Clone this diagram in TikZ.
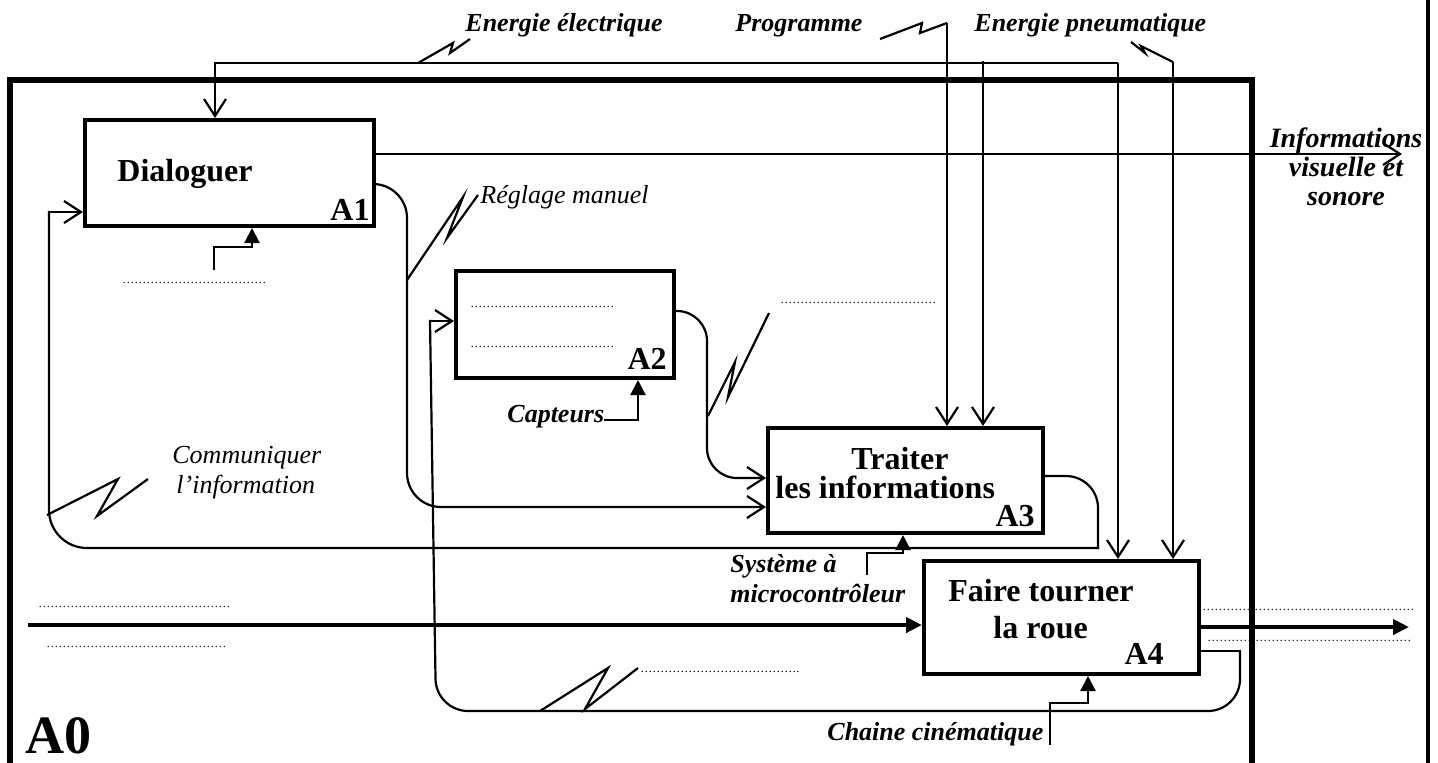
\documentclass[tikz,border=0pt]{standalone}
\usepackage{fontspec}
\setmainfont{Liberation Serif}
\usetikzlibrary{arrows.meta}
\newcount\dotcnt
\newcommand\myDots[1]{\dotcnt=0 \loop\ifnum\dotcnt<#1 …\advance\dotcnt by 1 \repeat}
\begin{document}
\begin{tikzpicture}[x=0.5pt,y=-0.5pt,
  wire/.style={line width=1.1pt},
  joinwire/.style={line width=1.1pt,line cap=rect},
  zz/.style={line width=1.1pt,line join=miter},
  box/.style={draw,line width=2pt,anchor=north west,inner sep=0pt},
  openarr/.style={wire,-{Straight Barb[length=8.5pt,width=11pt,line width=1.1pt]}},
  ctrlarr/.style={wire,-{Triangle[length=7.5pt,width=7.5pt]}},
  flowarr/.style={line width=2.2pt,-{Triangle[length=8pt,width=7.5pt]}},
  ttl/.style={font=\fontsize{16}{18}\selectfont\bfseries,inner sep=0pt,anchor=base west},
  lbl/.style={font=\fontsize{13}{15}\selectfont\bfseries\itshape,inner sep=0pt,anchor=base west},
  ilbl/.style={font=\fontsize{13}{15}\selectfont\itshape,inner sep=0pt,anchor=base west},
  infl/.style={font=\fontsize{14}{16}\selectfont\bfseries\itshape,inner sep=0pt,anchor=base},
  dts/.style={font=\fontsize{6}{7}\selectfont,inner sep=0pt,anchor=base west},
]
\useasboundingbox (0,0) rectangle (1438,762);

% outer frame and right border
\draw[line width=2.7pt] (10,775) -- (10,80) -- (1252,80) -- (1252,775);
\draw[line width=1.8pt] (1428,-10) -- (1428,775);

% boxes
\node[box,minimum width=144.5pt,minimum height=53pt] (A1) at (83,118) {};
\node[box,minimum width=109pt,minimum height=53.5pt] (A2) at (454,269) {};
\node[box,minimum width=137.5pt,minimum height=52.5pt] (A3) at (766,426) {};
\node[box,minimum width=137.5pt,minimum height=56.5pt] (A4) at (922,559) {};

% box texts
\node[ttl] (t1) at (117,181) {Dialoguer};
\node[ttl,anchor=base east] (n1) at (370,220) {A1};
\node[ttl,anchor=base east] (n2) at (667,369) {A2};
\node[ttl] (t3a) at (851,469) {Traiter};
\node[ttl] (t3b) at (775,498) {les informations};
\node[ttl,anchor=base east] (n3) at (1035,526) {A3};
\node[ttl] (t4a) at (948,601) {Faire tourner};
\node[ttl] (t4b) at (993,638) {la roue};
\node[ttl,anchor=base east] (n4) at (1164,664) {A4};
\node[font=\fontsize{27}{30}\selectfont\bfseries,inner sep=0pt,anchor=base west] (n0) at (25,753) {A0};

% labels
\node[lbl] (le) at (465,31) {Energie électrique};
\node[lbl] (lp) at (735,31) {Programme};
\node[lbl] (ln) at (974,31) {Energie pneumatique};
\node[infl] (li1) at (1346,147) {Informations};
\node[infl] (li2) at (1346,176) {visuelle et};
\node[infl] (li3) at (1346,205) {sonore};
\node[ilbl] (lr) at (480,203) {Réglage manuel};
\node[ilbl] (lc1) at (172,463) {Communiquer};
\node[ilbl] (lc2) at (176,493) {l’information};
\node[lbl] (lcap) at (507,422) {Capteurs};
\node[lbl] (ls1) at (730,572) {Système à};
\node[lbl] (ls2) at (730,602) {microcontrôleur};
\node[lbl] (lch) at (827,740) {Chaine cinématique};

% dotted placeholders
\node[dts] (d1) at (122,283) {\myDots{12}};
\node[dts] (d2) at (470,307) {\myDots{12}};
\node[dts] (d3) at (470,347) {\myDots{12}};
\node[dts] (d4) at (780,303) {\myDots{13}};
\node[dts] (d5) at (38,607) {\myDots{16}};
\node[dts] (d6) at (46,647) {\myDots{15}};
\node[dts] (d7) at (640,672) {\myDots{13}.};
\node[dts] (d8) at (1198,610) {\myDots{18}};
\node[dts] (d9) at (1207,641) {\myDots{17}};

% Energie electrique
\coordinate (eL) at (215,63);
\coordinate (eR) at (1118,63);
\coordinate (eM) at (983,61);
\draw[openarr] (eR) -- (eL) -- (eL |- A1.north);
\draw[openarr] (eR) -- (eR |- A4.north);
\draw[openarr] (eM) -- (eM |- A3.north);
\draw[zz] (418,63) -- (453,43) -- (450,53) -- (470,39);

% Programme
\coordinate (pT) at (947,23);
\draw[openarr] (pT) -- (pT |- A3.north);
\draw[zz] (880,39) -- (922,23) -- (920,33) -- (pT);

% Energie pneumatique
\coordinate (nT) at (1173,62);
\draw[openarr] (nT) -- (nT |- A4.north);
\draw[zz] (1131,42) -- (1145,53) -- (1141,46) -- (nT);

% Informations visuelle et sonore
\coordinate (iE) at (1402,154);
\draw[openarr] (A1.east |- iE) -- (iE);

% Reglage manuel
\coordinate (r1) at (407,184);
\coordinate (r2) at (407,507);
\draw[openarr,rounded corners=17pt] (A1.east |- r1) -- (r1) -- (r2) -- (A3.west |- r2);
\draw[zz] (407,280) -- (463,197) -- (447,238) -- (478,195);

% A2 -> A3
\coordinate (o1) at (707,311);
\draw[openarr,rounded corners=15pt] (A2.east |- o1) -- (o1) -- (o1 |- 0,478) -- (A3.west |- 0,478);
\draw[zz] (708,416) -- (735,362) -- (728,397) -- (769,313);

% Communiquer l'information loop
\coordinate (c1) at (1098,476);
\coordinate (c2) at (1098,548);
\coordinate (c3) at (49,548);
\coordinate (c4) at (49,212);
\draw[joinwire,rounded corners=16pt] (A3.east |- c1) -- (c1) -- (c2);
\draw[joinwire,rounded corners=19pt] (c2) -- (c3) -- (c4);
\draw[openarr] (c4) -- (A1.west |- c4);
\draw[zz] (47,515) -- (118,479) -- (97,516) -- (148,479);

% bottom loop A4 -> A2
\coordinate (b1) at (1240,651);
\coordinate (b2) at (1240,711);
\coordinate (b3) at (436,711);
\coordinate (b4) at (430,321);
\draw[joinwire] (A4.east |- b1) -- (b1);
\draw[joinwire,rounded corners=16pt] (b1) -- (b2) -- (b3) -- (b4);
\draw[openarr] (b4) -- (A2.west |- b4);
\draw[zz] (540,711) -- (608,668) -- (585,709) -- (638,668);

% controls
\coordinate (k1) at (214,270);
\coordinate (k1b) at (252,247);
\draw[ctrlarr] (k1) -- (k1 |- k1b) -- (k1b) -- (k1b |- A1.south);
\coordinate (k2) at (604,420);
\coordinate (k2b) at (638,420);
\draw[ctrlarr] (k2) -- (k2b) -- (k2b |- A2.south);
\coordinate (k3) at (867,575);
\coordinate (k3b) at (903,553);
\draw[ctrlarr] (k3) -- (k3 |- k3b) -- (k3b) -- (k3b |- A3.south);
\coordinate (k4) at (1050,745);
\coordinate (k4b) at (1088,703);
\draw[ctrlarr] (k4) -- (k4 |- k4b) -- (k4b) -- (k4b |- A4.south);

% main flow
\coordinate (m0) at (28,625);
\draw[flowarr] (m0) -- (A4.west |- m0);
\coordinate (m1) at (1409,627);
\draw[flowarr] (A4.east |- m1) -- (m1);
\end{tikzpicture}
\end{document}
